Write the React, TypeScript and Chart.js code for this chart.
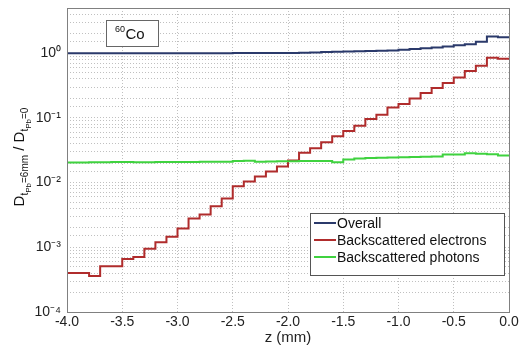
import React, { useEffect, useRef } from "react";
import { Chart, registerables } from "chart.js";

Chart.register(...registerables);

const zEdges = [
  -4.0, -3.9, -3.8, -3.7, -3.6, -3.5, -3.4, -3.3, -3.2, -3.1,
  -3.0, -2.9, -2.8, -2.7, -2.6, -2.5, -2.4, -2.3, -2.2, -2.1,
  -2.0, -1.9, -1.8, -1.7, -1.6, -1.5, -1.4, -1.3, -1.2, -1.1,
  -1.0, -0.9, -0.8, -0.7, -0.6, -0.5, -0.4, -0.3, -0.2, -0.1, 0.0,
];

const overall = [
  1.0, 1.0, 1.0, 1.0, 1.0, 1.0, 1.0, 1.0, 1.0, 1.0,
  1.0, 1.0, 1.0, 1.0, 1.0, 1.01, 1.01, 1.01, 1.01, 1.01,
  1.01, 1.02, 1.03, 1.04, 1.05, 1.06, 1.07, 1.08, 1.09, 1.1,
  1.13, 1.16, 1.19, 1.23, 1.27, 1.33, 1.38, 1.5, 1.82, 1.76,
];

const electrons = [
  4.0e-4, 4.0e-4, 3.6e-4, 5.1e-4, 5.1e-4, 6.6e-4, 7.1e-4, 9.5e-4, 1.2e-3, 1.45e-3,
  1.95e-3, 2.8e-3, 3.2e-3, 4.3e-3, 5.7e-3, 8.8e-3, 1.04e-2, 1.24e-2, 1.48e-2, 1.77e-2,
  2.2e-2, 2.9e-2, 3.4e-2, 4.2e-2, 5.2e-2, 6.3e-2, 7.6e-2, 9.6e-2, 0.112, 0.145,
  0.164, 0.2, 0.243, 0.29, 0.346, 0.42, 0.53, 0.64, 0.85, 0.82,
];

const photons = [
  0.0205, 0.0205, 0.0207, 0.0207, 0.0208, 0.0208, 0.0206, 0.0207, 0.0208, 0.0209,
  0.0208, 0.0209, 0.021, 0.021, 0.021, 0.0216, 0.0218, 0.0211, 0.0212, 0.0213,
  0.0214, 0.0215, 0.0216, 0.0215, 0.0207, 0.0228, 0.0236, 0.024, 0.0243, 0.0245,
  0.0247, 0.0248, 0.025, 0.0253, 0.0272, 0.0272, 0.0285, 0.028, 0.0275, 0.0262,
];

const seriesLabels = ["Overall", "Backscattered electrons", "Backscattered photons"];
const seriesColors = ["#2b3a6b", "#b02c2c", "#3fd23f"];
const xTicks = [-4.0, -3.5, -3.0, -2.5, -2.0, -1.5, -1.0, -0.5, 0.0];
const yDecades = [1e-4, 1e-3, 1e-2, 1e-1, 1];
const yDecadeLabels = ["10⁻⁴", "10⁻³", "10⁻²", "10⁻¹", "10⁰"];

const FONT = "'Liberation Sans', Arial, sans-serif";

function toPoints(vals: number[]) {
  return zEdges.map((z, i) => ({ x: z, y: vals[Math.min(i, vals.length - 1)] }));
}

const decorPlugin = {
  id: "decor",
  afterDraw(chart: any) {
    const ctx = chart.ctx as CanvasRenderingContext2D;
    const a = chart.chartArea;
    ctx.save();
    // frame
    ctx.strokeStyle = "#808080";
    ctx.lineWidth = 1;
    ctx.strokeRect(Math.round(a.left) + 0.5, Math.round(a.top) + 0.5, Math.round(a.right - a.left), Math.round(a.bottom - a.top));

    // 60Co box
    ctx.fillStyle = "#ffffff";
    ctx.fillRect(106, 20, 52, 26);
    ctx.strokeStyle = "#666";
    ctx.strokeRect(106.5, 20.5, 52, 26);
    ctx.fillStyle = "#111";
    ctx.textBaseline = "alphabetic";
    ctx.textAlign = "left";
    ctx.font = `9px ${FONT}`;
    ctx.fillText("60", 115, 32);
    const w60 = ctx.measureText("60").width;
    ctx.font = `15px ${FONT}`;
    ctx.fillText("Co", 115 + w60 + 0.5, 39);

    // legend
    ctx.fillStyle = "#ffffff";
    ctx.fillRect(310, 213, 194, 62);
    ctx.strokeStyle = "#555";
    ctx.strokeRect(310.5, 213.5, 194, 62);
    const rows = [223, 240, 257];
    chart.data.datasets.forEach((ds: any, i: number) => {
      ctx.strokeStyle = ds.borderColor;
      ctx.lineWidth = 2;
      ctx.beginPath();
      ctx.moveTo(314, rows[i]);
      ctx.lineTo(336, rows[i]);
      ctx.stroke();
      ctx.fillStyle = "#111";
      ctx.font = `14px ${FONT}`;
      ctx.textBaseline = "middle";
      ctx.fillText(ds.label, 337, rows[i] + 1);
    });

    // y axis title
    const parts: [string, number, number][] = [
      ["D", 15, 0],
      ["t", 10, 4],
      ["Pb", 8, 7],
      ["=6mm", 10, 4],
      [" / D", 15, 0],
      ["t", 10, 4],
      ["Pb", 8, 7],
      ["=0", 10, 4],
    ];
    let total = 0;
    parts.forEach(([s, f]) => {
      ctx.font = `${f}px ${FONT}`;
      total += ctx.measureText(s).width;
    });
    ctx.translate(24, 157 + total / 2);
    ctx.rotate(-Math.PI / 2);
    ctx.textBaseline = "alphabetic";
    ctx.fillStyle = "#111";
    let x = 0;
    parts.forEach(([s, f, dy]) => {
      ctx.font = `${f}px ${FONT}`;
      ctx.fillText(s, x, dy);
      x += ctx.measureText(s).width;
    });
    ctx.restore();
  },
};

export default function App() {
  const ref = useRef<HTMLCanvasElement>(null);
  useEffect(() => {
    document.body.style.margin = "0";
    const chart = new Chart(ref.current as HTMLCanvasElement, {
      type: "line",
      data: {
        datasets: [overall, electrons, photons].map((vals, i) => ({
          label: seriesLabels[i],
          data: toPoints(vals),
          borderColor: seriesColors[i],
          backgroundColor: seriesColors[i],
          borderWidth: 2,
          pointRadius: 0,
          stepped: "before" as const,
          fill: false,
          order: i === 2 ? 0 : 1,
        })),
      },
      options: {
        responsive: false,
        animation: false,
        layout: { padding: { top: 8, right: 11, left: 0, bottom: 0 } },
        plugins: { legend: { display: false }, tooltip: { enabled: false } },
        scales: {
          x: {
            type: "linear",
            min: -4,
            max: 0,
            afterBuildTicks: (s: any) => {
              s.ticks = xTicks.map((v) => ({ value: v }));
            },
            afterFit: (s: any) => {
              s.height = 37;
              s.paddingLeft = 0;
              s.paddingRight = 0;
            },
            ticks: {
              color: "#222",
              font: { size: 14, family: FONT },
              padding: 2,
              maxRotation: 0,
              autoSkip: false,
              callback: (v: any) => Number(v).toFixed(1),
            },
            grid: { color: "#c0c0c0", lineWidth: 1, drawTicks: false },
            border: { display: false, dash: [1, 2] },
            title: {
              display: true,
              text: "z (mm)",
              color: "#222",
              font: { size: 15, family: FONT },
              padding: { top: 0, bottom: 2 },
            },
          },
          y: {
            type: "logarithmic",
            min: 1e-4,
            max: 5,
            afterFit: (s: any) => {
              s.width = 67;
              s.paddingTop = 0;
              s.paddingBottom = 0;
            },
            ticks: {
              color: "#222",
              font: { size: 14, family: FONT },
              padding: 6,
              autoSkip: false,
              callback: (v: any) => {
                const idx = yDecades.findIndex((d) => Math.abs(Number(v) / d - 1) < 1e-6);
                return idx >= 0 ? yDecadeLabels[idx] : "";
              },
            },
            grid: { color: "#c0c0c0", lineWidth: 1, drawTicks: false },
            border: { display: false, dash: [1, 2] },
          },
        },
      },
      plugins: [decorPlugin],
    });
    return () => chart.destroy();
  }, []);
  return (
    <div style={{ position: "absolute", left: 0, top: 0, width: 520, height: 349, background: "#fff" }}>
      <canvas ref={ref} width={520} height={349} />
    </div>
  );
}
